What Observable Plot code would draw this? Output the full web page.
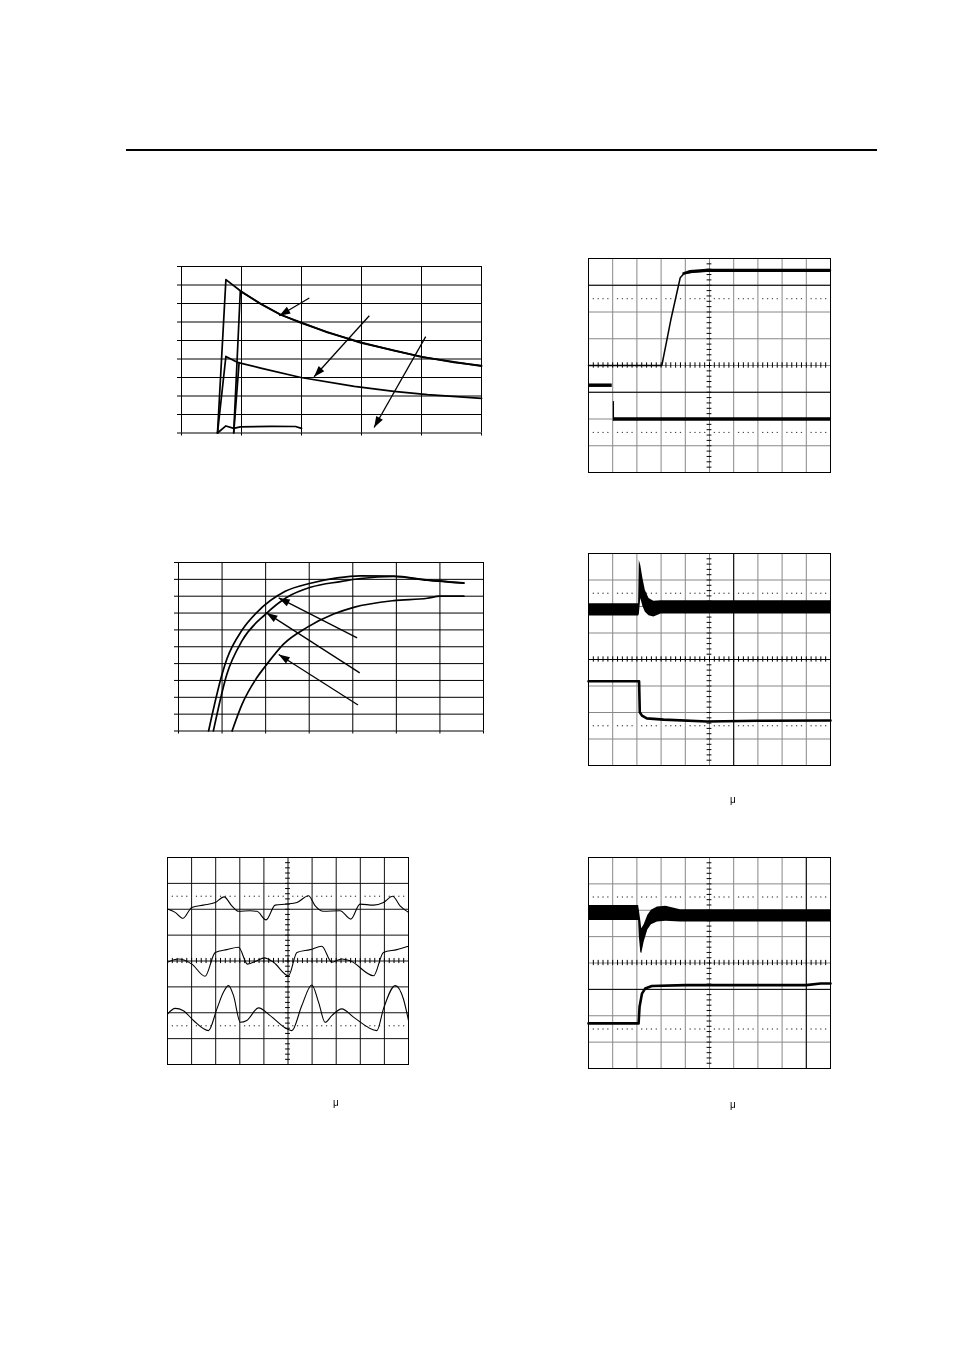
<!DOCTYPE html>
<html><head><meta charset="utf-8">
<script src="https://cdn.jsdelivr.net/npm/d3@7"></script>
<script src="https://cdn.jsdelivr.net/npm/@observablehq/plot@0.6"></script>
<style>
html,body{margin:0;padding:0;background:#fff;}
#page{position:relative;width:954px;height:1350px;overflow:hidden;font-family:"Liberation Sans",Arial,sans-serif;color:#000;}
.panel{position:absolute;line-height:0;}
.mu{position:absolute;font-size:10px;line-height:10px;font-family:"Liberation Sans",Arial,sans-serif;color:#000;will-change:transform;}
#rule{position:absolute;left:126px;top:149px;width:751px;height:2px;background:#000;}
</style></head><body><div id="page"><div id="rule"></div></div>
<script>
// ---------- Panel 1 (top left): decay curves ----------
const P1_X_TICKS = [0, 1, 2, 3, 4, 5];
const P1_Y_TICKS = [0, 1, 2, 3, 4, 5, 6, 7, 8, 9];
const P1_UPPER_A = [[0.6,0],[0.74,8.29],[0.98,7.69],[1.32,6.97],[1.65,6.39],[1.99,5.98],[2.43,5.44],[2.99,4.9],[3.54,4.45],[4.01,4.12],[4.54,3.82],[5.0,3.64]];
const P1_UPPER_B = [[0.87,0],[0.98,7.66],[1.32,6.99],[1.65,6.41],[1.99,5.95],[2.43,5.46],[2.99,4.87],[3.54,4.47],[4.01,4.1],[4.54,3.84],[5.0,3.61]];
const P1_LOWER_A = [[0.6,0],[0.74,4.14],[0.93,3.82],[1.32,3.51],[1.99,3.0],[2.88,2.52],[3.54,2.25],[4.1,2.07],[5.0,1.87]];
const P1_LOWER_B = [[0.87,0],[0.96,3.8]];
const P1_FLAT = [[0.6,0],[0.74,0.38],[0.87,0.25],[0.98,0.33],[1.5,0.36],[1.9,0.35],[2.0,0.25]];
const P1_ARROWS = [[[2.13,7.3],[1.63,6.34]], [[3.13,6.34],[2.21,3.04]], [[4.07,5.21],[3.21,0.3]]];

// ---------- Panel 2 (middle left): rising curves ----------
const P2_X_TICKS = [0, 1, 2, 3, 4, 5, 6, 7];
const P2_Y_TICKS = [0, 1, 2, 3, 4, 5, 6, 7, 8, 9, 10];
const P2_CURVE_1 = [[0.69,0],[1.0,3.37],[1.11,4.27],[1.46,5.99],[1.8,7.04],[2.45,8.29],[3.03,8.77],[3.64,9.09],[4.18,9.21],[4.94,9.19],[5.7,8.97],[6.55,8.79]];
const P2_CURVE_2 = [[0.8,0],[1.11,3.37],[1.46,5.36],[2.0,6.94],[2.49,7.94],[3.03,8.53],[3.72,8.87],[4.18,9.05],[4.94,9.17],[5.7,8.95],[6.55,8.77]];
const P2_CURVE_3 = [[1.23,0],[1.46,1.59],[1.8,3.17],[2.0,3.87],[2.41,5.16],[2.95,6.15],[3.56,6.94],[4.02,7.34],[4.94,7.74],[5.71,7.88],[6.0,8.0],[6.55,8.0]];
const P2_ARROWS = [[[4.1,5.53],[2.3,7.9]], [[4.16,3.45],[2.02,7.01]], [[4.12,1.54],[2.3,4.54]]];

// ---------- Oscilloscope graticule (divisions) ----------
const SCOPE_X_DIVS = [0,1,2,3,4,5,6,7,8,9,10];
const SCOPE_Y_DIVS = [-4,-3,-2,-1,0,1,2,3,4];
const SCOPE_DOTTED_Y = [2.5, -2.5];

// ---------- Panel 3 (bottom left): three periodic traces ----------
const P3_TRACE_1 = [[0,2.01],[0.32,1.88],[0.64,1.65],[1.01,2.07],[1.49,2.16],[1.98,2.26],[2.35,2.48],[2.67,2.13],[2.95,1.92],[3.43,1.94],[3.71,1.92],[4.09,1.59],[4.47,2.16],[4.95,2.2],[5.37,2.26],[5.85,2.52],[6.13,2.13],[6.47,1.92],[7.16,1.94],[7.61,1.62],[7.99,2.2],[8.55,2.16],[8.96,2.26],[9.34,2.5],[9.65,2.13],[10,1.88]];
const P3_TRACE_2 = [[0,-0.05],[0.46,0.08],[1.01,-0.12],[1.56,-0.59],[1.98,0.33],[2.46,0.44],[2.95,0.53],[3.32,-0.12],[3.71,0.01],[4.01,0.12],[4.4,-0.05],[5.02,-0.57],[5.37,0.33],[5.92,0.44],[6.4,0.57],[6.82,-0.05],[7.23,0.08],[7.58,0.01],[8.55,-0.57],[8.96,0.33],[9.52,0.44],[10,0.57]];
const P3_TRACE_3 = [[0,-2.05],[0.32,-1.83],[0.66,-1.92],[1.08,-2.3],[1.7,-2.69],[2.05,-1.85],[2.32,-1.21],[2.53,-0.95],[2.74,-1.34],[3.02,-2.37],[3.29,-2.3],[3.78,-1.81],[4.26,-2.11],[4.95,-2.62],[5.16,-2.69],[5.57,-1.73],[5.99,-0.93],[6.27,-1.6],[6.54,-2.37],[6.82,-2.11],[7.23,-1.85],[7.72,-2.17],[8.69,-2.69],[8.96,-1.85],[9.45,-0.95],[9.79,-1.47],[10,-2.3]];

// ---------- Panel 4 (top right): step response ----------
const P4_TOP = [[0,0],[3.03,0],[3.4,1.7],[3.79,3.28],[3.93,3.42],[4.34,3.5],[4.9,3.53],[10,3.55]];
const P4_TOP_BAND = [[3.9,3.37,3.46],[4.2,3.43,3.55],[4.9,3.48,3.6],[10,3.48,3.6]];
const P4_BOTTOM_LEFT_BAND = [[0,-0.82,-0.69],[0.98,-0.82,-0.69]];
const P4_BOTTOM_EDGE = [[1.03,-1.35],[1.03,-2.05]];
const P4_BOTTOM_BAND = [[1.04,-2.08,-1.95],[10,-2.08,-1.95]];

// ---------- Panel 5 (middle right): load step ----------
const P5_TOP_BAND = [[0,1.64,2.1],[2.07,1.64,2.1],[2.1,1.7,3.74],[2.16,2.3,3.55],[2.25,2.0,3.05],[2.35,1.78,2.6],[2.5,1.65,2.3],[2.7,1.6,2.2],[3.0,1.72,2.22],[10,1.72,2.22]];
const P5_BOTTOM = [[0,-0.82],[2.09,-0.82],[2.12,-1.99],[2.21,-2.12],[2.41,-2.22],[3.1,-2.27],[4.9,-2.34],[7,-2.31],[10,-2.3]];

// ---------- Panel 6 (bottom right): load step ----------
const P6_TOP_BAND = [[0,1.61,2.18],[2.07,1.61,2.18],[2.1,1.0,2.0],[2.16,0.4,1.6],[2.2,0.35,1.3],[2.3,0.8,1.45],[2.45,1.25,1.8],[2.6,1.45,2.0],[2.85,1.55,2.12],[3.2,1.58,2.15],[3.8,1.55,2.02],[10,1.55,2.02]];
const P6_BOTTOM = [[0,-2.29],[2.07,-2.29],[2.11,-1.66],[2.21,-1.16],[2.34,-0.97],[2.62,-0.87],[4,-0.84],[9,-0.84],[9.59,-0.78],[10,-0.78]];

const MU_LABELS = [["\u03bc", 333, 1098], ["\u03bc", 730, 795], ["\u03bc", 730, 1100]];

// ================= drawing =================
const page = document.getElementById("page");
const M = 20;
function place(svg, left, top) {
  const d = document.createElement("div");
  d.className = "panel";
  d.style.left = (left - M) + "px";
  d.style.top = (top - M) + "px";
  d.appendChild(svg);
  page.appendChild(d);
}
function head(angle, len = 11, half = 3.8) {
  return {draw(ctx) {
    const ux = Math.cos(angle), uy = Math.sin(angle);
    const bx = -ux * len, by = -uy * len, px = -uy * half, py = ux * half;
    ctx.moveTo(0, 0); ctx.lineTo(bx + px, by + py); ctx.lineTo(bx - px, by - py); ctx.closePath();
  }};
}
function excel({left, top, right, bottom, xTicks, yTicks, series, arrows, curve}) {
  const W = right - left, H = bottom - top;
  const x0 = xTicks[0], x1 = xTicks[xTicks.length - 1], y0 = yTicks[0], y1 = yTicks[yTicks.length - 1];
  const kx = W / (x1 - x0), ky = H / (y1 - y0);
  const rows = series.flatMap((s, i) => s.map(([x, y]) => ({x, y, s: i})));
  const marks = [
    Plot.ruleX(xTicks, {stroke: "#000", strokeWidth: 1}),
    Plot.ruleY(yTicks, {stroke: "#000", strokeWidth: 1}),
    Plot.line(rows, {x: "x", y: "y", z: "s", stroke: "#000", strokeWidth: 1.7, strokeLinejoin: "round", curve}),
    Plot.link(arrows, {x1: a => a[0][0], y1: a => a[0][1], x2: a => a[1][0], y2: a => a[1][1], stroke: "#000", strokeWidth: 1.3}),
    ...arrows.map(a => {
      const ang = Math.atan2(-(a[1][1] - a[0][1]) * ky, (a[1][0] - a[0][0]) * kx);
      return Plot.dot([a[1]], {x: d => d[0], y: d => d[1], symbol: head(ang), r: 4, fill: "#000", stroke: "none"});
    })
  ];
  const svg = Plot.plot({
    width: W + 2 * M, height: H + 2 * M, margin: M,
    style: {background: "transparent", overflow: "visible"},
    x: {domain: [x0, x1], ticks: xTicks, tickSize: 3, tickFormat: () => "", label: null},
    y: {domain: [y0, y1], ticks: yTicks, tickSize: 4, tickFormat: () => "", label: null},
    marks
  });
  place(svg, left, top);
}
function scope({left, top, right, bottom, grid, darkX, darkY, bands, traces}) {
  const W = right - left, H = bottom - top;
  const minorX = d3.range(0, 10.001, 0.2);
  const minorY = d3.range(-4, 4.001, 0.2);
  const dotted = [];
  for (const y of SCOPE_DOTTED_Y) for (const x of minorX) if (Math.abs(x - Math.round(x)) > 1e-6) dotted.push([x, y]);
  const marks = [
    Plot.ruleX(SCOPE_X_DIVS, {stroke: grid}),
    Plot.ruleY(SCOPE_Y_DIVS, {stroke: grid}),
    Plot.ruleX(darkX, {stroke: "#000"}),
    Plot.ruleY(darkY, {stroke: "#000"}),
    Plot.dot(dotted, {x: d => d[0], y: d => d[1], r: 0.7, fill: "#444", stroke: "none"}),
    Plot.ruleY(minorY, {x1: 4.9, x2: 5.1, stroke: "#000"}),
    Plot.ruleX(minorX, {y1: -0.1, y2: 0.1, stroke: "#000"}),
    Plot.frame({stroke: "#000"}),
    ...bands.map(b => Plot.areaY(b, {x: d => d[0], y1: d => d[1], y2: d => d[2], fill: "#000"})),
    ...traces.map(t => Plot.line(t.pts, {x: d => d[0], y: d => d[1], stroke: "#000", strokeWidth: t.w, strokeLinejoin: "round", curve: t.curve || "linear"}))
  ];
  const svg = Plot.plot({
    width: W + 2 * M, height: H + 2 * M, margin: M,
    style: {background: "transparent", overflow: "visible"},
    x: {domain: [0, 10], axis: null},
    y: {domain: [-4, 4], axis: null},
    marks
  });
  place(svg, left, top);
}

excel({left: 181, top: 266, right: 481, bottom: 432.5, xTicks: P1_X_TICKS, yTicks: P1_Y_TICKS,
  series: [P1_UPPER_A, P1_UPPER_B, P1_LOWER_A, P1_LOWER_B, P1_FLAT], arrows: P1_ARROWS, curve: "linear"});
excel({left: 178, top: 562, right: 483, bottom: 730.5, xTicks: P2_X_TICKS, yTicks: P2_Y_TICKS,
  series: [P2_CURVE_1, P2_CURVE_2, P2_CURVE_3], arrows: P2_ARROWS, curve: "monotone-x"});

scope({left: 167, top: 857, right: 408, bottom: 1064, grid: "#111", darkX: [], darkY: [], bands: [],
  traces: [{pts: P3_TRACE_1, w: 1.1, curve: "monotone-x"}, {pts: P3_TRACE_2, w: 1.1, curve: "monotone-x"}, {pts: P3_TRACE_3, w: 1.1, curve: "monotone-x"}]});
scope({left: 588, top: 258, right: 830, bottom: 472, grid: "#888", darkX: [], darkY: [3, -1],
  bands: [P4_TOP_BAND, P4_BOTTOM_LEFT_BAND, P4_BOTTOM_BAND],
  traces: [{pts: P4_TOP, w: 1.5}, {pts: P4_BOTTOM_EDGE, w: 1.2}]});
scope({left: 588, top: 553, right: 830, bottom: 765, grid: "#888", darkX: [6], darkY: [0],
  bands: [P5_TOP_BAND], traces: [{pts: P5_BOTTOM, w: 2.6}]});
scope({left: 588, top: 857, right: 830, bottom: 1068, grid: "#888", darkX: [9], darkY: [-1],
  bands: [P6_TOP_BAND], traces: [{pts: P6_BOTTOM, w: 2.6}]});

for (const [t, x, y] of MU_LABELS) {
  const d = document.createElement("div");
  d.className = "mu"; d.textContent = t;
  d.style.left = x + "px"; d.style.top = y + "px";
  page.appendChild(d);
}
</script></body></html>
